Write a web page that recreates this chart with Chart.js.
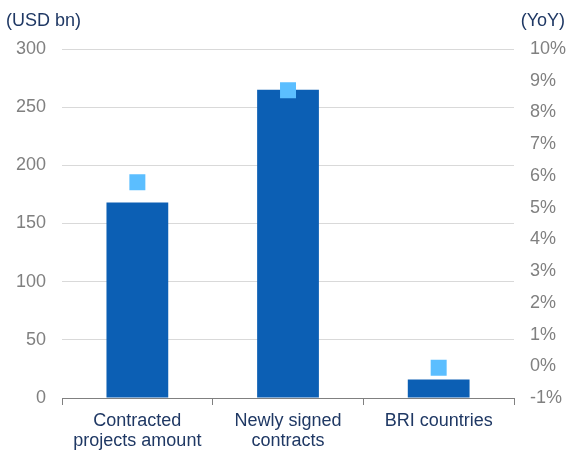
<!DOCTYPE html>
<html>
<head>
<meta charset="utf-8">
<script src="https://cdn.jsdelivr.net/npm/chart.js@4"></script>
<style>
  html, body { margin: 0; padding: 0; background: #fff; }
  #wrap { width: 568px; height: 451px; position: relative; }
</style>
</head>
<body>
<div id="wrap"><canvas id="chart"></canvas></div>
<script>
// Dados do gráfico
const categories = [['Contracted', 'projects amount'], ['Newly signed', 'contracts'], 'BRI countries'];
const amountUsdBn = [168, 265, 16];
const yoyPct = [5.8, 8.7, -0.05];

const navy = '#1F3864';
const grey = '#808080';
const fontFamily = '"Liberation Sans", Arial, sans-serif';

// Títulos dos eixos no topo
const cornerTitles = {
  id: 'cornerTitles',
  afterDraw(chart) {
    const ctx = chart.ctx;
    ctx.save();
    ctx.font = '18px ' + fontFamily;
    ctx.fillStyle = navy;
    ctx.textBaseline = 'middle';
    ctx.textAlign = 'left';
    ctx.fillText('(USD bn)', 6, 21);
    ctx.textAlign = 'right';
    ctx.fillText('(YoY)', 565, 21);
    ctx.restore();
  }
};

const ctx = document.getElementById('chart').getContext('2d');
new Chart(ctx, {
  type: 'bar',
  data: {
    labels: categories,
    datasets: [{
      type: 'line',
      label: 'YoY',
      data: yoyPct,
      yAxisID: 'y1',
      showLine: false,
      pointStyle: 'rect',
      pointRadius: 11.3,
      pointHoverRadius: 11.3,
      pointBackgroundColor: '#5BBEFF',
      pointBorderColor: '#5BBEFF',
      pointBorderWidth: 0
    }, {
      label: 'USD bn',
      data: amountUsdBn,
      yAxisID: 'y',
      backgroundColor: '#0C5FB4',
      categoryPercentage: 0.41,
      barPercentage: 1
    }]
  },
  options: {
    responsive: true,
    maintainAspectRatio: false,
    animation: false,
    layout: { padding: { top: 49, left: 0, right: 0, bottom: 0 } },
    plugins: { legend: { display: false }, tooltip: { enabled: false } },
    scales: {
      x: {
        grid: { drawOnChartArea: false, drawTicks: true, tickLength: 7, color: grey, offset: true },
        border: { color: grey, width: 1 },
        ticks: { color: navy, font: { size: 18, family: fontFamily, lineHeight: 1.1 }, padding: 6, maxRotation: 0 },
        // evita o recuo extra causado pelos rótulos longos
        afterFit: s => { s.paddingLeft = 0; s.paddingRight = 0; s.height = 53; }
      },
      y: {
        position: 'left',
        min: 0, max: 300,
        ticks: { stepSize: 50, color: grey, padding: 16, font: { size: 18, family: fontFamily } },
        grid: { color: '#D9D9D9', drawTicks: false },
        border: { display: false }
      },
      y1: {
        position: 'right',
        min: -1, max: 10,
        ticks: { stepSize: 1, color: grey, padding: 16, callback: v => v + '%', font: { size: 18, family: fontFamily } },
        grid: { drawOnChartArea: false, drawTicks: false },
        border: { display: false },
        afterFit: s => { s.width = 54; }
      }
    }
  },
  plugins: [cornerTitles]
});
</script>
</body>
</html>
